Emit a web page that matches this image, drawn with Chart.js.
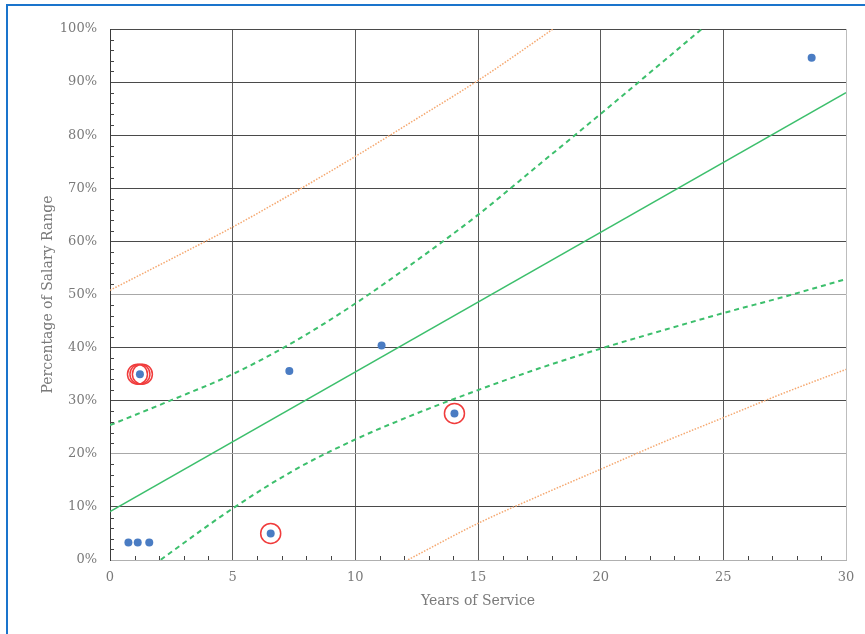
<!DOCTYPE html>
<html>
<head>
<meta charset="utf-8">
<script src="https://cdn.jsdelivr.net/npm/chart.js@4.4.0/dist/chart.umd.min.js"></script>
<style>
html,body{margin:0;padding:0;background:#fff;}
#wrap{width:865px;height:634px;position:relative;}
</style>
</head>
<body>
<div id="wrap"><canvas id="salaryChart" width="865" height="634"></canvas></div>
<script>
// observed points
var pointYears = [0.75, 1.13, 1.6, 1.22, 6.55, 7.31, 11.07, 14.04, 28.6];
var pointPct   = [3.3, 3.3, 3.3, 35.0, 5.0, 35.6, 40.4, 27.6, 94.6];

// flagged points (red rings)
var ringYears = [1.12, 1.22, 1.32, 6.55, 14.04];
var ringPct   = [35.0, 35.0, 35.0, 5.0, 27.6];

// fitted line
var fitYears = [0, 30];
var fitPct   = [9.1, 88.0];

// bands
var bandYears = [0, 2.5, 5, 7.5, 10, 12.5, 15, 17.5, 20, 22.5, 25, 27.5, 30];
var confUpper = [25.4, 30.1, 35.0, 41.1, 48.3, 56.4, 65.0, 74.5, 84.0, 93.7, 103.4, 113.2, 123.0];
var confLower = [-7.0, 1.5, 9.7, 16.9, 22.7, 27.6, 32.0, 36.1, 39.8, 43.2, 46.5, 49.6, 52.9];
var predUpper = [50.8, 56.7, 62.7, 69.2, 76.0, 83.1, 90.3, 98.2, 106.4, 115.0, 124.0, 133.0, 142.0];
var predLower = [-32.6, -25.6, -18.2, -11.5, -5.2, 0.9, 6.9, 12.1, 17.1, 22.1, 26.8, 31.5, 35.9];

function pairs(xs, ys){
    var out = [];
    for(var i=0;i<xs.length;i++){ out.push({x: xs[i], y: ys[i]}); }
    return out;
}

var textColor = "#7a7a7a";
var serif = "'DejaVu Serif', 'Liberation Serif', serif";

var extras = {
    id: "extras",
    afterDatasetsDraw: function(chart){
        var ctx = chart.ctx, a = chart.chartArea;
        var xs = chart.scales.x, ys = chart.scales.y;
        ctx.save();
        ctx.strokeStyle = "#444";
        ctx.lineWidth = 1;
        ctx.beginPath();
        for(var p=2;p<100;p+=2){
            if(p%10===0) continue;
            var py = Math.round(ys.getPixelForValue(p))+0.5;
            ctx.moveTo(a.left, py); ctx.lineTo(a.left+4, py);
        }
        for(var yr=1;yr<30;yr++){
            if(yr%5===0) continue;
            var px = Math.round(xs.getPixelForValue(yr))+0.5;
            ctx.moveTo(px, a.bottom); ctx.lineTo(px, a.bottom-4);
        }
        ctx.stroke();
        ctx.restore();
    },
    afterDraw: function(chart){
        var ctx = chart.ctx;
        ctx.save();
        ctx.fillStyle = "#1a74cc";
        ctx.fillRect(6, 4, 859, 2);
        ctx.fillRect(6, 4, 2, 630);
        ctx.restore();
    }
};

new Chart("salaryChart", {
    type: "scatter",
    data: {
        datasets: [
            {
                type: "line",
                data: pairs(bandYears, predUpper),
                borderColor: "#f5a870",
                borderWidth: 1.5,
                borderDash: [1.5, 1.5],
                pointRadius: 0,
                cubicInterpolationMode: "monotone",
                clip: 0
            },
            {
                type: "line",
                data: pairs(bandYears, predLower),
                borderColor: "#f5a870",
                borderWidth: 1.5,
                borderDash: [1.5, 1.5],
                pointRadius: 0,
                cubicInterpolationMode: "monotone",
                clip: 0
            },
            {
                type: "line",
                data: pairs(bandYears, confUpper),
                borderColor: "#3cbf6c",
                borderWidth: 2,
                borderDash: [5, 4],
                pointRadius: 0,
                cubicInterpolationMode: "monotone",
                clip: 0
            },
            {
                type: "line",
                data: pairs(bandYears, confLower),
                borderColor: "#3cbf6c",
                borderWidth: 2,
                borderDash: [5, 4],
                pointRadius: 0,
                cubicInterpolationMode: "monotone",
                clip: 0
            },
            {
                type: "line",
                data: pairs(fitYears, fitPct),
                borderColor: "#3cbf6c",
                borderWidth: 1.5,
                pointRadius: 0,
                clip: 0
            },
            {
                data: pairs(pointYears, pointPct),
                backgroundColor: "#4a7cc3",
                borderWidth: 0,
                pointRadius: 4
            },
            {
                data: pairs(ringYears, ringPct),
                backgroundColor: "rgba(0,0,0,0)",
                borderColor: "#f03c3c",
                borderWidth: 1.5,
                pointRadius: 10
            }
        ]
    },
    options: {
        responsive: false,
        animation: false,
        layout: { padding: { top: 29, right: 19, left: 0, bottom: 0 } },
        plugins: {
            legend: { display: false },
            tooltip: { enabled: false }
        },
        scales: {
            x: {
                type: "linear",
                min: 0, max: 30,
                afterFit: function(s){ s.height = 74; },
                ticks: { stepSize: 5, color: textColor, font: { family: serif, size: 13 }, padding: 10 },
                grid: {
                    color: function(c){ return c.tick && c.tick.value === 30 ? "#bdbdbd" : "#5a5a5a"; },
                    lineWidth: 1,
                    drawTicks: false
                },
                border: { color: "#b0b0b0", width: 1 },
                title: { display: true, text: "Years of Service", color: textColor, font: { family: serif, size: 14 }, padding: { top: 0, bottom: 24 } }
            },
            y: {
                min: 0, max: 100,
                afterFit: function(s){ s.width = 110; },
                ticks: {
                    stepSize: 10, color: textColor, font: { family: serif, size: 13 }, padding: 13,
                    callback: function(v){ return v + "%"; }
                },
                grid: {
                    color: function(c){
                        var v = c.tick ? c.tick.value : 0;
                        return (v === 20 || v === 50) ? "#a8a8a8" : "#4a4a4a";
                    },
                    lineWidth: 1,
                    drawTicks: false
                },
                border: { color: "#3a3a3a", width: 1 },
                title: { display: true, text: "Percentage of Salary Range", color: textColor, font: { family: serif, size: 14 }, padding: { top: 40, bottom: 0 } }
            }
        }
    },
    plugins: [extras]
});
</script>
</body>
</html>
